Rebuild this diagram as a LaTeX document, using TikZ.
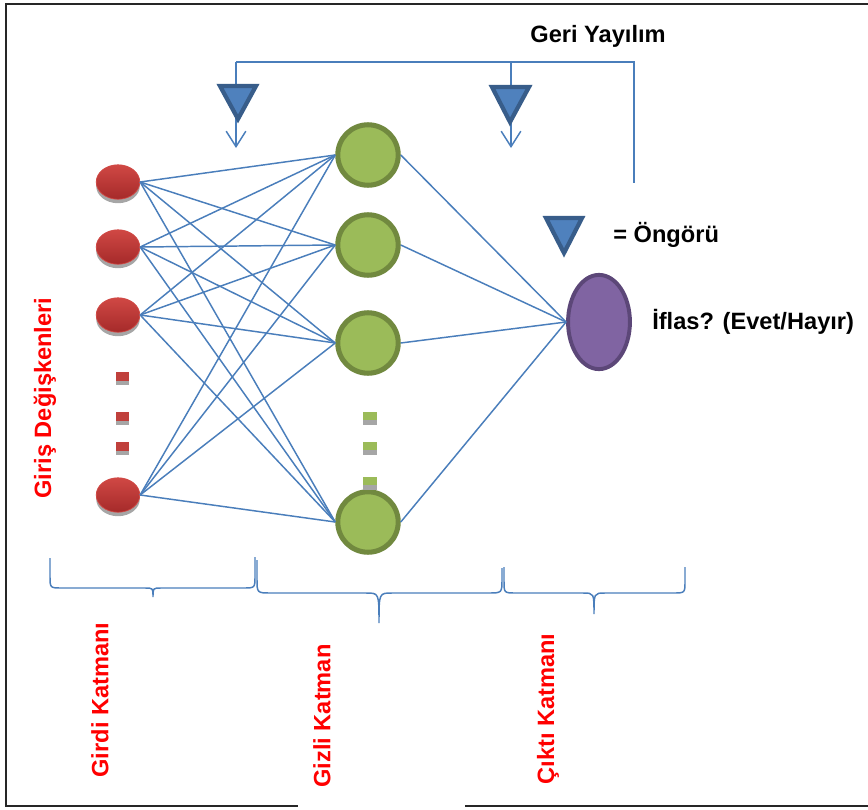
\documentclass[tikz,border=0pt]{standalone}
\usepackage{fontspec}
\setmainfont{Liberation Sans}
\usepackage{tikz}
\usetikzlibrary{positioning,calc,arrows.meta,shapes}

\definecolor{linkblue}{RGB}{74,126,187}
\definecolor{triblue}{RGB}{79,129,189}
\definecolor{triborder}{RGB}{56,93,138}
\definecolor{hidgreen}{RGB}{155,187,89}
\definecolor{hidborder}{RGB}{113,137,63}
\definecolor{outpurple}{RGB}{128,100,162}
\definecolor{outborder}{RGB}{92,71,120}
\definecolor{inred}{RGB}{192,64,60}
\definecolor{inredlight}{RGB}{208,72,68}
\definecolor{inreddark}{RGB}{165,42,42}
\definecolor{shadowgray}{RGB}{166,166,166}

\begin{document}
\begin{tikzpicture}[x = 0.025cm, y = -0.025cm, >={Straight Barb[length=11pt,width=14pt]},
	link/.style = {draw = linkblue, line width = 1.05pt},
	inputnode/.style = {ellipse, inner sep = 0pt, minimum width = 31pt, minimum height = 24.5pt, top color = inredlight, bottom color = inreddark, draw = inredlight, line width = 0.5pt},
	shadownode/.style = {ellipse, inner sep = 0pt, minimum width = 31pt, minimum height = 24.5pt, fill = shadowgray},
	hiddennode/.style = {circle, inner sep = 0pt, minimum size = 43pt, fill = hidgreen, draw = hidborder, line width = 3.6pt},
	outputnode/.style = {ellipse, inner sep = 0pt, minimum width = 44pt, minimum height = 67pt, fill = outpurple, draw = outborder, line width = 2.8pt},
	predict/.style = {fill = triblue, draw = triborder, line width = 3pt, line join = miter},
	blacktext/.style = {font = \bfseries\fontsize{16.8}{20}\selectfont, inner sep = 0pt},
	redtext/.style = {font = \bfseries\fontsize{16.8}{20}\selectfont, text = red, rotate = 90, inner sep = 0pt}]
	\useasboundingbox (0,0) rectangle (868,809);
	% frame
	\draw[line width = 1.5pt, draw = black!85] (868,4) -- (6,4) -- (6,806);
	\draw[line width = 1.5pt, draw = black!85] (5,806) -- (298,806);
	\draw[line width = 1.5pt, draw = black!85] (465,806) -- (868,806);
	% layers
	\foreach \y [count = \i] in {182,247,315,495} {
		\node at (118,\y+4) [shadownode] {};
		\node (in\i) at (118,\y) [inputnode] {};
	}
	\foreach \y [count = \i] in {155,245,343,522}
		\node (hid\i) at (368,\y) [hiddennode] {};
	\node (out) at (599,322) [outputnode] {};
	\foreach \i in {1,...,4} {
		\foreach \j in {1,...,4}
			\draw[link] (in\i.east) -- (hid\j.west);
		\draw[link] (hid\i.east) -- (out.west);
	}
	% dots
	\foreach \y in {372,412,442} {
		\fill[inred] (116,\y) rectangle (129,\y+9);
		\fill[shadowgray] (116,\y+9) rectangle (129,\y+13);
	}
	\foreach \y in {412,442,477} {
		\fill[hidgreen] (363,\y) rectangle (377,\y+8);
		\fill[shadowgray] (363,\y+8) rectangle (377,\y+13);
	}
	% back propagation
	\coordinate (fbleft) at (236,62);
	\coordinate (fbmid) at (511,62);
	\coordinate (fbright) at (634,62);
	\coordinate (fbend) at (634,183);
	\coordinate (arrleft) at (236,148);
	\coordinate (arrmid) at (511,148);
	\draw[link] (fbleft) -- (fbright) -- (fbend);
	\draw[link, ->] (fbleft) -- (arrleft);
	\draw[link, ->] (fbmid) -- (arrmid);
	\draw[predict] (220,86) -- (256,86) -- (238,119) -- cycle;
	\draw[predict] (492,87) -- (529,87) -- (510,122) -- cycle;
	\draw[predict] (546,218) -- (582,218) -- (564,253) -- cycle;
	\node (geri) at (598,36) [blacktext] {Geri Yayılım};
	\node (ongoru) at (613,235) [blacktext, anchor = west] {= Öngörü};
	\node (iflas) at (652,322) [blacktext, anchor = west] {İflas? (Evet/Hayır)};
	% braces
	\draw[link] (50,558) -- (50,576) .. controls (50,588) .. (62,588) -- (145,588) .. controls (153,588) .. (153,597) .. controls (153,588) .. (161,588) -- (243,588) .. controls (255,588) .. (255,576) -- (255,557);
	\draw[link] (257,560) -- (257,579) .. controls (257,593) .. (271,593) -- (366,593) .. controls (379,593) .. (379,623) .. controls (379,593) .. (392,593) -- (488,593) .. controls (502,593) .. (502,579) -- (502,568);
	\draw[link] (504,567) -- (504,581) .. controls (504,593) .. (516,593) -- (583,593) .. controls (594,593) .. (594,614) .. controls (594,593) .. (605,593) -- (673,593) .. controls (685,593) .. (685,581) -- (685,567);
	% labels
	\node (giris) at (45,398) [redtext] {Giriş Değişkenleri};
	\node (girdi) at (100,700) [redtext] {Girdi Katmanı};
	\node (gizli) at (322,716) [redtext] {Gizli Katman};
	\node (cikti) at (548,709) [redtext] {Çıktı Katmanı};
\end{tikzpicture}
\end{document}
